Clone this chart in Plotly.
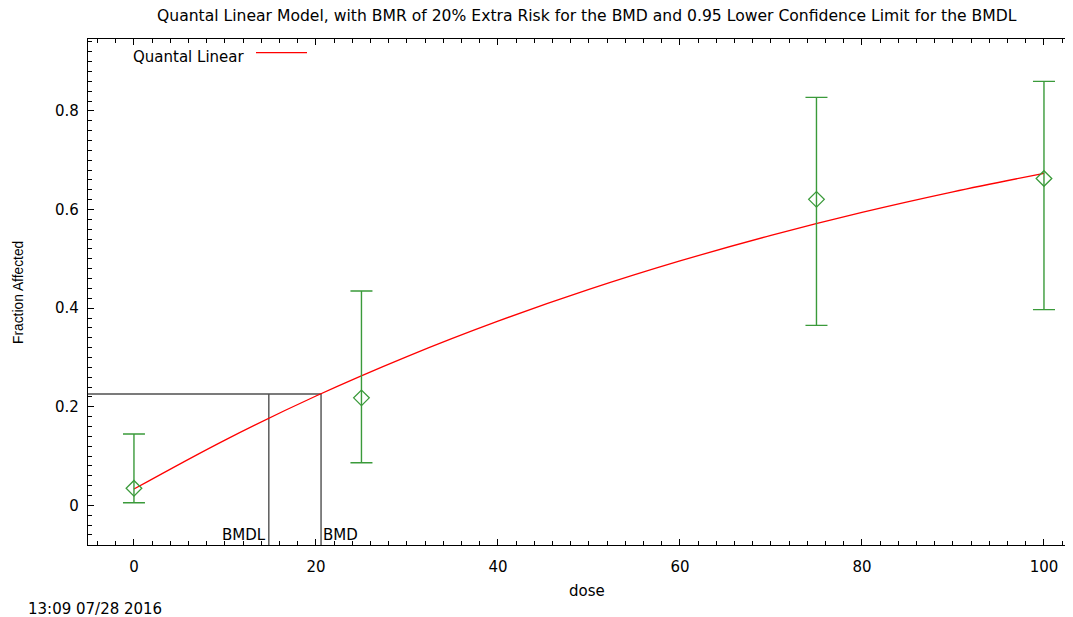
import plotly.graph_objects as go

# Observed data
dose = [0, 25, 75, 100]
frac = [0.0345, 0.218, 0.6207, 0.663]
ci_low = [0.0053, 0.0864, 0.365, 0.397]
ci_high = [0.1446, 0.4347, 0.8276, 0.860]

# Fitted Quantal Linear curve
curve_dose = [0, 10, 20, 30, 40, 50, 60, 70, 80, 90, 100]
curve_frac = [0.033, 0.1324, 0.2217, 0.3017, 0.3735, 0.4379, 0.4957, 0.5476, 0.5942, 0.6359, 0.6734]

bmd = 20.56
bmdl = 14.82
bmd_resp = 0.2258

x_range = [-5.05, 103.19]
y_range = [-0.0805, 0.946]

x_ticks = [0, 20, 40, 60, 80, 100]
y_ticks = [0, 0.2, 0.4, 0.6, 0.8]
y_tick_text = ["0", "0.2", "0.4", "0.6", "0.8"]

GREEN = "#3a9a3a"
GRAY = "#505050"
FONT = "DejaVu Sans"
FS = 15

fig = go.Figure()

# BMD / BMDL reference lines
fig.add_trace(go.Scatter(
    x=[x_range[0], bmd, bmd], y=[bmd_resp, bmd_resp, y_range[0]],
    mode="lines", line=dict(color=GRAY, width=1.4), showlegend=False, hoverinfo="skip"))
fig.add_trace(go.Scatter(
    x=[bmdl, bmdl], y=[bmd_resp, y_range[0]],
    mode="lines", line=dict(color=GRAY, width=1.4), showlegend=False, hoverinfo="skip"))

# Model curve
fig.add_trace(go.Scatter(
    x=curve_dose, y=curve_frac, mode="lines", line=dict(color="red", width=1.3, shape="spline"),
    name="Quantal Linear", showlegend=False))

# Data with error bars
fig.add_trace(go.Scatter(
    x=dose, y=frac, mode="markers",
    marker=dict(symbol="diamond-open", size=12, color=GREEN, line=dict(width=1.3, color=GREEN)),
    error_y=dict(type="data", symmetric=False,
                 array=[h - m for h, m in zip(ci_high, frac)],
                 arrayminus=[m - l for m, l in zip(frac, ci_low)],
                 color=GREEN, thickness=1.4, width=11),
    showlegend=False))

# page is offset by 8px body margin; plot area on screen: x 88..1073, y 39..545
OFF = 8
W, H = 1073 - OFF, 617 - OFF
L, T, B = 88 - OFF, 39 - OFF, 72
R = W - L - 985

def px(x):
    return (x - 88) / 985

def py(y):
    return (545 - y) / 506

annotations = [
    dict(text="Quantal Linear Model, with BMR of 20% Extra Risk for the BMD and 0.95 Lower Confidence Limit for the BMDL",
         xref="paper", yref="paper", x=px(587), y=py(16), xanchor="center", yanchor="middle",
         showarrow=False, font=dict(family=FONT, size=15.6, color="black")),
    dict(text="Quantal Linear", xref="paper", yref="paper", x=px(131), y=py(56.5),
         xanchor="left", yanchor="middle", showarrow=False, font=dict(family=FONT, size=FS, color="black")),
    dict(text="dose", xref="paper", yref="paper", x=px(587), y=py(591), xanchor="center", yanchor="middle",
         showarrow=False, font=dict(family=FONT, size=FS, color="black")),
    dict(text="Fraction Affected", xref="paper", yref="paper", x=px(18), y=py(293), xanchor="center",
         yanchor="middle", textangle=-90, showarrow=False,
         font=dict(family="Liberation Sans", size=13.8, color="black")),
    dict(text="13:09 07/28 2016", xref="paper", yref="paper", x=px(26), y=py(609), xanchor="left",
         yanchor="middle", showarrow=False, font=dict(family=FONT, size=FS, color="black")),
    dict(text="BMDL", xref="x", yref="y", x=bmdl, y=-0.06, xanchor="right", yanchor="middle",
         showarrow=False, xshift=-1, font=dict(family=FONT, size=FS, color="black")),
    dict(text="BMD", xref="x", yref="y", x=bmd, y=-0.06, xanchor="left", yanchor="middle",
         showarrow=False, xshift=0, font=dict(family=FONT, size=FS, color="black")),
]

shapes = [
    dict(type="line", xref="paper", yref="paper", x0=px(256), x1=px(307), y0=py(52.7), y1=py(52.7),
         line=dict(color="red", width=1.3)),
]

fig.update_layout(
    width=W, height=H,
    margin=dict(l=L, r=R, t=T, b=B, pad=0),
    paper_bgcolor="white", plot_bgcolor="white",
    showlegend=False,
    annotations=annotations, shapes=shapes,
    font=dict(family=FONT, size=FS, color="black"),
    xaxis=dict(range=x_range, tickvals=x_ticks, ticks="inside", ticklen=6, tickwidth=1, tickcolor="black",
               showline=True, linecolor="black", linewidth=1.3, mirror="ticks", showgrid=False, zeroline=False,
               ticklabelstandoff=8,
               tickfont=dict(family=FONT, size=FS, color="black"),
               minor=dict(dtick=2, ticks="inside", ticklen=3.5, tickcolor="black", tickwidth=1, showgrid=False)),
    yaxis=dict(range=y_range, tickvals=y_ticks, ticktext=y_tick_text, ticks="inside", ticklen=6, tickwidth=1,
               tickcolor="black", showline=True, linecolor="black", linewidth=1.3, mirror=False,
               showgrid=False, zeroline=False, ticklabelstandoff=5,
               tickfont=dict(family=FONT, size=FS, color="black"),
               minor=dict(dtick=0.02, tick0=0, ticks="inside", ticklen=3.5, tickcolor="black", tickwidth=1,
                          showgrid=False)),
)

fig.write_html("out.html")
